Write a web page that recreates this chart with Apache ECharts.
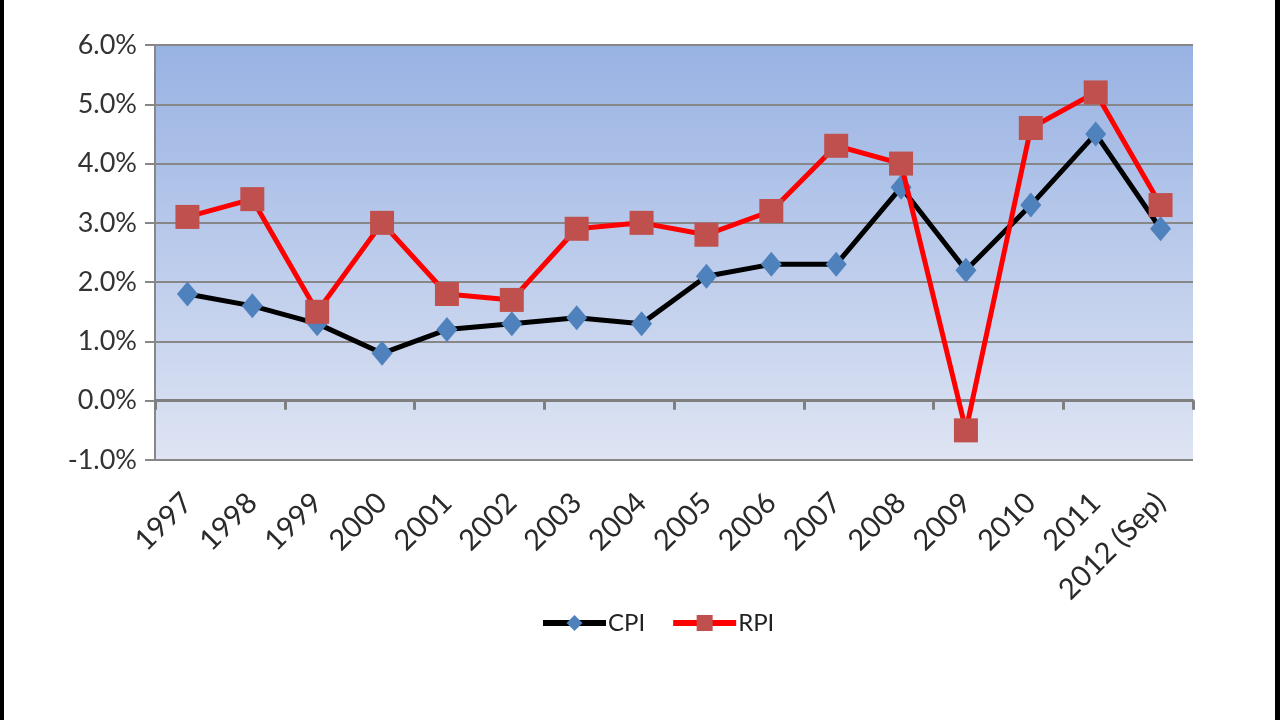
<!DOCTYPE html>
<html>
<head>
<meta charset="utf-8">
<title>CPI vs RPI</title>
<script src="https://cdn.jsdelivr.net/npm/echarts@6/dist/echarts.min.js"></script>
<style>
  html, body { margin: 0; padding: 0; background: #fff; }
  #chart { width: 1280px; height: 720px; }
</style>
</head>
<body>
<div id="chart"></div>
<script>
// 年份
const years = ['1997', '1998', '1999', '2000', '2001', '2002', '2003', '2004',
  '2005', '2006', '2007', '2008', '2009', '2010', '2011', '2012 (Sep)']
// 通胀率 (%)
const cpiValues = [1.8, 1.6, 1.3, 0.8, 1.2, 1.3, 1.4, 1.3, 2.1, 2.3, 2.3, 3.6, 2.2, 3.3, 4.5, 2.9]
const rpiValues = [3.1, 3.4, 1.5, 3.0, 1.8, 1.7, 2.9, 3.0, 2.8, 3.2, 4.3, 4.0, -0.5, 4.6, 5.2, 3.3]
const yTicks = [-1, 0, 1, 2, 3, 4, 5, 6]

const chart = echarts.init(document.getElementById('chart'))
const font = 'Lato, "Open Sans", sans-serif'
const gridGrey = '#878787'

const option = {
  backgroundColor: '#fff',
  animation: false,
  textStyle: { fontFamily: font },
  // 左右两侧黑边
  graphic: [
    { type: 'rect', left: 0, top: 0, shape: { width: 4, height: 720 }, style: { fill: '#000' } },
    { type: 'rect', right: 0, top: 0, shape: { width: 5, height: 720 }, style: { fill: '#000' } }
  ],
  grid: {
    left: 155,
    right: 87,
    top: 45,
    bottom: 260,
    show: true,
    borderWidth: 0,
    backgroundColor: new echarts.graphic.LinearGradient(0, 0, 0, 1, [
      { offset: 0, color: '#98B2E3' },
      { offset: 1, color: '#DEE4F3' }
    ])
  },
  legend: {
    left: 535,
    top: 606,
    itemWidth: 63,
    itemHeight: 20,
    itemGap: 25,
    textStyle: { fontSize: 24, color: '#222', fontFamily: font, padding: [0, 0, 0, -3] },
    data: [
      { name: 'CPI', lineStyle: { color: '#000', width: 6 } },
      { name: 'RPI', lineStyle: { color: '#FF0000', width: 6 } }
    ]
  },
  xAxis: [
    {
      // 0% 处的横轴（只画刻度）
      type: 'category',
      data: years,
      boundaryGap: true,
      axisLine: { show: true, onZero: true, lineStyle: { color: '#7f7f7f', width: 3 } },
      axisTick: { show: true, length: 9, lineStyle: { color: '#7f7f7f', width: 3 } },
      axisLabel: { show: false },
      splitLine: { show: false }
    },
    {
      // 底部标签
      type: 'category',
      data: years,
      position: 'bottom',
      boundaryGap: true,
      axisLine: { show: false, onZero: false },
      axisTick: { show: false },
      axisLabel: {
        show: true,
        rotate: 45,
        margin: 38,
        interval: 0,
        fontSize: 29,
        color: '#2a2a2a',
        fontFamily: font
      },
      splitLine: { show: false }
    }
  ],
  yAxis: {
    type: 'value',
    min: yTicks[0],
    max: yTicks[yTicks.length - 1],
    interval: 1,
    axisLine: { show: true, lineStyle: { color: gridGrey, width: 2 } },
    axisTick: { show: true, length: 10, lineStyle: { color: gridGrey, width: 2 } },
    axisLabel: {
      fontSize: 27,
      color: '#333',
      margin: 18,
      fontFamily: font,
      formatter: (v) => v.toFixed(1) + '%'
    },
    splitLine: { show: true, lineStyle: { color: gridGrey, width: 2 } }
  },
  series: [
    {
      name: 'CPI',
      type: 'line',
      xAxisIndex: 0,
      data: cpiValues,
      symbol: 'diamond',
      symbolSize: [21, 25],
      lineStyle: { color: '#000', width: 5 },
      itemStyle: { color: '#4F81BD', borderWidth: 0 },
      z: 2
    },
    {
      name: 'RPI',
      type: 'line',
      xAxisIndex: 0,
      data: rpiValues,
      symbol: 'rect',
      symbolSize: 24,
      lineStyle: { color: '#FF0000', width: 5 },
      itemStyle: { color: '#C0504D', borderWidth: 0 },
      z: 3
    }
  ]
}

chart.setOption(option)
</script>
</body>
</html>
